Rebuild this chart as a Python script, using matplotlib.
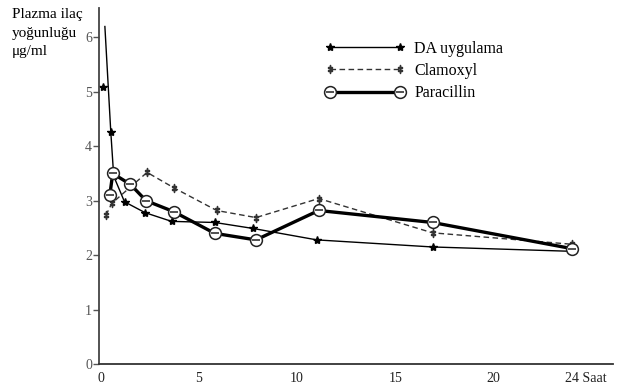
import matplotlib.pyplot as plt
import matplotlib.transforms as mtransforms
from matplotlib.legend_handler import HandlerTuple

plt.rcParams['font.family'] = ['Liberation Serif', 'DejaVu Serif']

# DA uygulama (stars)
da_t = [0.2, 0.5, 0.65, 1.2, 2.25, 3.6, 5.8, 7.75, 11.0, 16.9, 24]
da_c = [6.2, 4.27, 3.45, 2.98, 2.78, 2.62, 2.6, 2.49, 2.28, 2.15, 2.07]
da_extra_t = [0.1]
da_extra_c = [5.08]

# Clamoxyl (dashed)
cl_t = [0.25, 0.55, 2.35, 3.7, 5.9, 7.9, 11.1, 16.9, 24]
cl_c = [2.73, 2.95, 3.52, 3.24, 2.82, 2.69, 3.04, 2.41, 2.2]

# Paracillin (thick)
pa_t = [0.45, 0.6, 1.5, 2.3, 3.7, 5.8, 7.9, 11.1, 16.9, 24]
pa_c = [3.1, 3.5, 3.3, 3.0, 2.8, 2.4, 2.28, 2.82, 2.6, 2.12]

xticks = [0, 5, 10, 15, 20, 24]
xlabels = ['0', '5', '10', '15', '20', '24 Saat']
yticks = [0, 1, 2, 3, 4, 5, 6]

fig = plt.figure(figsize=(6.2, 3.9), dpi=100)
ax = fig.add_axes([99 / 620, 1 - 364 / 390, (613 - 99) / 620, (364 - 8) / 390])

da_line, = ax.plot(da_t, da_c, color='black', lw=1.0, marker='*', markersize=6,
                   markevery=list(range(1, len(da_t))))
ax.plot(da_extra_t, da_extra_c, ls='none', color='black', marker='*', markersize=6)
cl_line, = ax.plot(cl_t, cl_c, color='#333333', lw=1.0, ls=(0, (4, 2.5)),
                   marker='$\\ddagger$', markersize=6)
pa_line, = ax.plot(pa_t, pa_c, color='black', lw=2.4)
pa_circ, = ax.plot(pa_t, pa_c, ls='none', marker='o', markersize=8.5,
                   markerfacecolor='white', markeredgecolor='#222222', markeredgewidth=1.1)
pa_bar, = ax.plot(pa_t, pa_c, ls='none', marker='_', markersize=5.5,
                  markeredgecolor='#222222', markeredgewidth=1.1)

ax.set_xlim(-0.1, 26.1)
ax.set_ylim(0, 6.54)
ax.spines['top'].set_visible(False)
ax.spines['right'].set_visible(False)
ax.spines['left'].set_linewidth(1.3)
ax.spines['bottom'].set_linewidth(1.3)
ax.spines['left'].set_color('#444444')
ax.spines['bottom'].set_color('#333333')

ax.set_xticks(xticks)
ax.set_xticklabels(xlabels)
ax.tick_params(axis='x', length=0, pad=6, labelsize=10, labelcolor='#222222')
ax.set_yticks(yticks)
ax.tick_params(axis='y', length=4, width=1, direction='out', pad=1,
               labelsize=10, labelcolor='#555555', color='#555555')

last = ax.get_xticklabels()[-1]
last.set_ha('left')
last.set_transform(last.get_transform() + mtransforms.ScaledTranslation(-7 / 100, 0, fig.dpi_scale_trans))

fig.text(12 / 620, 1 - 8 / 390, 'Plazma ilaç\nyoğunluğu\nμg/ml', ha='left', va='top',
         fontsize=11, linespacing=1.55)

ax.legend([da_line, cl_line, (pa_line, pa_circ, pa_bar)],
          ['DA uygulama', 'Clamoxyl', 'Paracillin'],
          handler_map={tuple: HandlerTuple(ndivide=1)},
          loc='upper left', bbox_to_anchor=(325 / 620, 1 - 41 / 390),
          bbox_transform=fig.transFigure, frameon=False, fontsize=11.5,
          handlelength=5.0, handletextpad=0.6, labelspacing=0.38,
          borderpad=0, borderaxespad=0, numpoints=2)

fig.savefig('out.png', dpi=100)
